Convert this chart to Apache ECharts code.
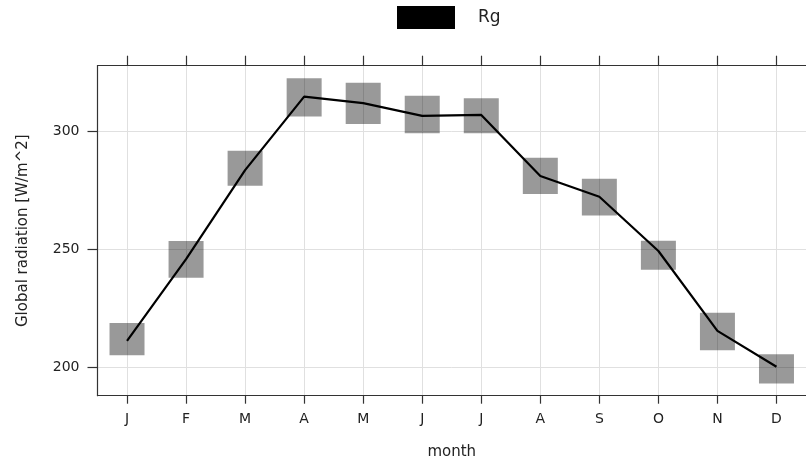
<!DOCTYPE html>
<html>
<head>
<meta charset="utf-8">
<script src="https://cdn.jsdelivr.net/npm/echarts@6/dist/echarts.min.js"></script>
<style>html,body{margin:0;padding:0;background:#fff}#c{width:806px;height:466px}</style>
</head>
<body>
<div id="c"></div>
<script>
const months = ['J','F','M','A','M','J','J','A','S','O','N','D'];
const rg = [211.3, 245.9, 283.7, 314.9, 312.1, 306.7, 307.1, 281.2, 272.4, 249.4, 215.5, 200.3];
const boxLow  = [205.2, 238.0, 277.1, 306.4, 303.3, 299.3, 299.3, 273.6, 264.5, 241.4, 207.3, 193.2];
const boxHigh = [218.8, 253.6, 291.9, 322.7, 320.8, 315.3, 314.2, 289.0, 280.0, 253.7, 223.2, 205.6];
const yTicks = [200, 250, 300];

const idx = months.map((m, i) => i);
const font = 'DejaVu Sans';
const chart = echarts.init(document.getElementById('c'), null, {renderer: 'canvas'});
chart.setOption({
  animation: false,
  backgroundColor: '#fff',
  textStyle: {fontFamily: font},
  legend: {
    data: ['Rg'], left: 397, top: 6, padding: 0, icon: 'rect', itemWidth: 58, itemHeight: 23,
    textStyle: {fontFamily: font, fontSize: 17, color: '#222', padding: [0, 0, 0, 18]}
  },
  grid: {left: 97.5, top: 65.7, width: 712, height: 330, containLabel: false},
  xAxis: [{
    type: 'value', position: 'bottom', min: -0.5, max: 11.5,
    name: 'month', nameLocation: 'middle', nameGap: 49,
    nameTextStyle: {fontFamily: font, fontSize: 15, color: '#222'},
    axisLine: {show: true, onZero: false, lineStyle: {color: '#333', width: 1.2}},
    axisTick: {show: true, length: 8, customValues: idx, lineStyle: {color: '#333', width: 1.2}},
    axisLabel: {customValues: idx, margin: 17, fontFamily: font, fontSize: 14, color: '#222',
      formatter: v => months[Math.round(v)]},
    splitLine: {show: true, lineStyle: {color: '#e0e0e0', width: 1}}
  }, {
    type: 'value', position: 'top', min: -0.5, max: 11.5,
    axisLine: {show: true, onZero: false, lineStyle: {color: '#333', width: 1.2}},
    axisTick: {show: true, length: 10, customValues: idx, lineStyle: {color: '#333', width: 1.2}},
    axisLabel: {show: false, customValues: idx},
    splitLine: {show: false}
  }],
  yAxis: {
    type: 'value', min: 188, max: 328,
    name: 'Global radiation [W/m^2]', nameLocation: 'middle', nameGap: 67, nameRotate: 90,
    nameTextStyle: {fontFamily: font, fontSize: 15, color: '#222'},
    axisLine: {show: true, onZero: false, lineStyle: {color: '#333', width: 1.2}},
    axisTick: {show: true, length: 10, customValues: yTicks, lineStyle: {color: '#333', width: 1.2}},
    axisLabel: {customValues: yTicks, margin: 18, fontFamily: font, fontSize: 14, color: '#222'},
    splitLine: {show: true, lineStyle: {color: '#e0e0e0', width: 1}}
  },
  series: [{
    name: 'box', type: 'custom', z: 2,
    data: idx.map(i => [i, boxLow[i], boxHigh[i]]),
    encode: {x: 0, y: [1, 2]},
    renderItem: (params, api) => {
      const i = api.value(0);
      const top = api.coord([i, api.value(2)]);
      const bot = api.coord([i, api.value(1)]);
      const w = 35;
      return {type: 'rect', shape: {x: top[0] - w / 2, y: top[1], width: w, height: bot[1] - top[1]},
        style: {fill: 'rgba(0,0,0,0.4)'}};
    }
  }, {
    name: 'Rg', type: 'line', z: 3, symbol: 'none',
    data: idx.map(i => [i, rg[i]]),
    itemStyle: {color: '#000'},
    lineStyle: {color: '#000', width: 2.2}
  }]
});
</script>
</body>
</html>
